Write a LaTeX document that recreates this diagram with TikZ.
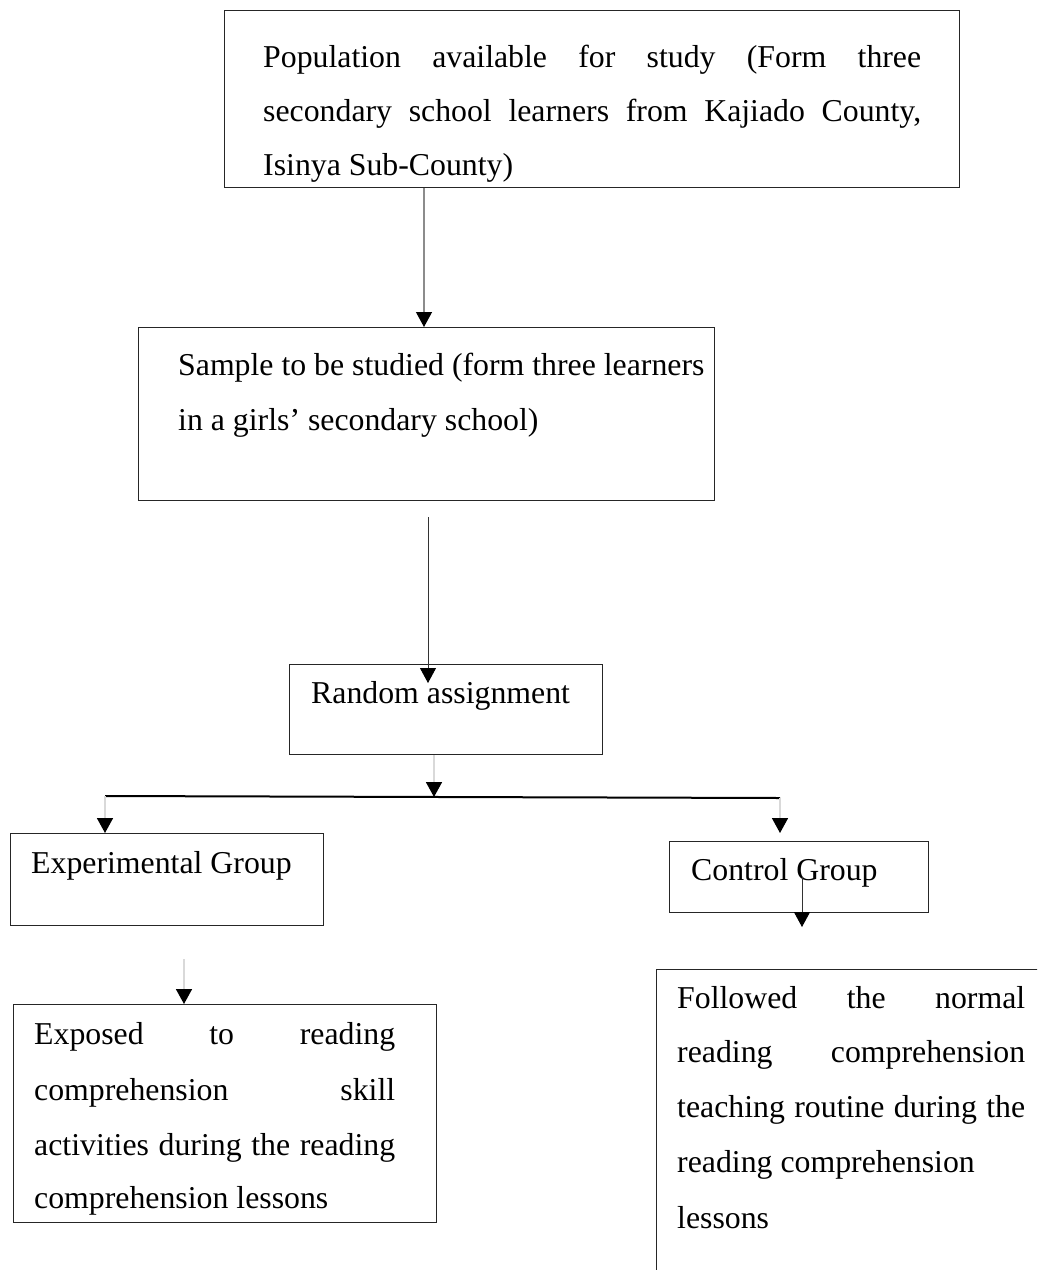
\documentclass[tikz,border=0pt]{standalone}
\usepackage{fontspec}
\setmainfont{Liberation Serif}
\usetikzlibrary{arrows.meta}
\begin{document}
\begin{tikzpicture}[x=1pt,y=-1pt,
  box/.style={draw=black!85, line width=1.3pt, rectangle, inner sep=0pt, anchor=north west},
  txt/.style={inner sep=0pt, anchor=base west, font=\fontsize{31.8pt}{55pt}\selectfont},
  arr/.style={-{Triangle[width=16pt,length=15pt,color=black]}},
  graylink/.style={arr, draw=black!45, line width=1.2pt},
  darklink/.style={arr, draw=black!80, line width=0.9pt},
  lightlink/.style={arr, draw=black!15, line width=1.6pt}]
\useasboundingbox (0,0) rectangle (1037,1270);
\clip (0,0) rectangle (1037,1270);
\fill[white] (0,0) rectangle (1037,1270);

% boxes
\node[box, minimum width=735pt, minimum height=177pt] (pop) at (224,10) {};
\node[box, minimum width=576pt, minimum height=173pt] (sample) at (138,327) {};
\node[box, minimum width=313pt, minimum height=90pt] (rand) at (289,664) {};
\node[box, minimum width=313pt, minimum height=92pt] (exp) at (10,833) {};
\node[box, minimum width=259pt, minimum height=71pt] (ctrl) at (669,841) {};
\node[box, minimum width=423pt, minimum height=218pt] (exposed) at (13,1004) {};
\node[box, minimum width=420pt, minimum height=350pt] (followed) at (656,969) {};

% texts
\node[txt] (p1) at (263,67) {\makebox[658pt][s]{Population available for study (Form three}};
\node[txt] (p2) at (263,121) {\makebox[658pt][s]{secondary school learners from Kajiado County,}};
\node[txt] (p3) at (263,175) {Isinya Sub-County)};
\node[txt] (s1) at (178,375) {Sample to be studied (form three learners};
\node[txt] (s2) at (178,430) {in a girls’ secondary school)};
\node[txt] (r1) at (311,703) {Random assignment};
\node[txt] (e1) at (31,873) {Experimental Group};
\node[txt] (c1) at (691,880) {Control Group};
\node[txt] (x1) at (34,1044) {\makebox[361pt][s]{Exposed to reading}};
\node[txt] (x2) at (34,1100) {\makebox[361pt][s]{comprehension skill}};
\node[txt] (x3) at (34,1155) {\makebox[361pt][s]{activities during the reading}};
\node[txt] (x4) at (34,1208) {comprehension lessons};
\node[txt] (f1) at (677,1008) {\makebox[348pt][s]{Followed the normal}};
\node[txt] (f2) at (677,1062) {\makebox[348pt][s]{reading comprehension}};
\node[txt] (f3) at (677,1117) {\makebox[348pt][s]{teaching routine during the}};
\node[txt] (f4) at (677,1172) {reading comprehension};
\node[txt] (f5) at (677,1228) {lessons};

% coordinates
\coordinate (a1) at (424,0);
\coordinate (a2s) at (428,517);
\coordinate (a2e) at (428,683);
\coordinate (hm) at (434,797);
\coordinate (hl) at (105,796);
\coordinate (hr) at (780,798);
\coordinate (c6s) at (802,877);
\coordinate (c6e) at (802,927);
\coordinate (x7s) at (184,959);

% connectors
\draw[graylink] (pop.south -| a1) -- (sample.north -| a1);
\draw[darklink] (a2s) -- (a2e);
\draw[lightlink] (rand.south -| hm) -- (hm);
\draw[black, line width=2pt] (hl) -- (hr);
\draw[lightlink] (hl) -- (exp.north -| hl);
\draw[lightlink, shorten >=8pt] (hr) -- (ctrl.north -| hr);
\draw[darklink] (c6s) -- (c6e);
\draw[lightlink] (x7s) -- (exposed.north -| x7s);
\end{tikzpicture}
\end{document}
